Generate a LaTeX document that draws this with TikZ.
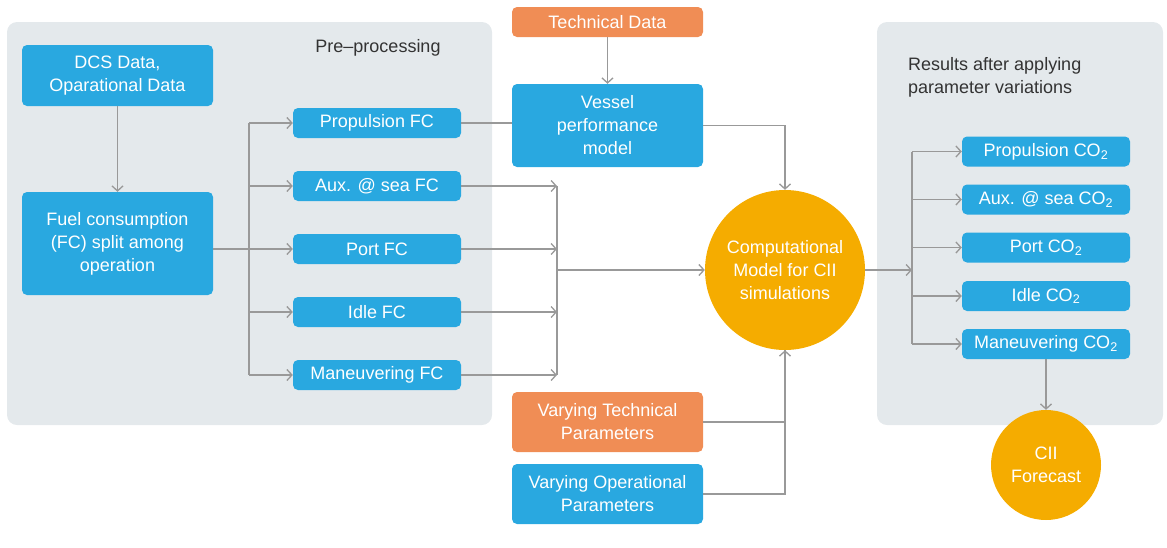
\documentclass[tikz,border=0pt]{standalone}
\usepackage{fontspec}
\setmainfont{Liberation Sans}
\usetikzlibrary{arrows.meta}
\definecolor{cblue}{HTML}{29A8E0}
\definecolor{corange}{HTML}{F08D55}
\definecolor{camber}{HTML}{F5AC00}
\definecolor{cpanel}{HTML}{E4E9EC}
\definecolor{cline}{HTML}{999999}
\definecolor{ctext}{HTML}{333333}
\tikzset{
  box/.style={fill=cblue, rounded corners=5pt, text=white, align=center, inner sep=0pt,
    font=\fontsize{18}{23}\selectfont},
  obox/.style={box, fill=corange},
  fcbox/.style={box, minimum width=168, minimum height=30},
  bigbox/.style={box, minimum width=191},
  circ/.style={circle, fill=camber, text=white, align=center, inner sep=0pt,
    font=\fontsize{18}{23}\selectfont},
  ln/.style={draw=cline, line width=1.3pt},
  arr/.style={ln, -{Straight Barb[length=5pt,width=11pt,line width=1.3pt]}},
  ptext/.style={text=ctext, align=left, inner sep=0pt, font=\fontsize{18}{23}\selectfont},
}
\begin{document}
\begin{tikzpicture}[x=1pt,y=-1pt]
\useasboundingbox (0,0) rectangle (1167,547);
% panels
\fill[cpanel, rounded corners=10pt] (7,22) rectangle (492,425);
\fill[cpanel, rounded corners=10pt] (877,22) rectangle (1163,425);
\node[ptext, anchor=center] (pre) at (378,48) {Pre\textendash processing};
\node[ptext, anchor=north west] (res) at (908,57) {Results after applying\\parameter variations};
% left
\node[bigbox, minimum height=61] (dcs) at (117.5,75.5) {DCS Data,\\Oparational Data};
\node[bigbox, minimum height=103] (fc) at (117.5,243.5) {Fuel consumption\\(FC) split among\\operation};
\node[fcbox] (pfc) at (377,123) {Propulsion FC};
\node[fcbox] (afc) at (377,186) {Aux. @ sea FC};
\node[fcbox] (tfc) at (377,249) {Port FC};
\node[fcbox] (ifc) at (377,312) {Idle FC};
\node[fcbox] (mfc) at (377,375) {Maneuvering FC};
% middle
\node[obox, minimum width=191, minimum height=30] (td) at (607.5,22) {Technical Data};
\node[bigbox, minimum height=83] (vpm) at (607.5,125.5) {Vessel\\performance\\model};
\node[obox, minimum width=191, minimum height=60] (vtp) at (607.5,422) {Varying Technical\\Parameters};
\node[bigbox, minimum height=60] (vop) at (607.5,494) {Varying Operational\\Parameters};
\node[circ, minimum size=160] (cm) at (785,270) {Computational\\Model for CII\\simulations};
% right
\node[fcbox] (pco) at (1046,151.5) {Propulsion CO\textsubscript{2}};
\node[fcbox] (aco) at (1046,199.5) {Aux. @ sea CO\textsubscript{2}};
\node[fcbox] (tco) at (1046,247.5) {Port CO\textsubscript{2}};
\node[fcbox] (ico) at (1046,296) {Idle CO\textsubscript{2}};
\node[fcbox] (mco) at (1046,344) {Maneuvering CO\textsubscript{2}};
\node[circ, minimum size=110] (cii) at (1046,465) {CII\\Forecast};
% connectors left
\coordinate (sp) at (249,249);
\draw[arr] (dcs) -- (fc);
\draw[ln] (sp -| fc.east) -- (sp);
\draw[ln] (sp |- pfc.west) -- (sp |- mfc.west);
\foreach \n in {pfc,afc,tfc,ifc,mfc} \draw[arr] (sp |- \n.west) -- (\n.west);
\coordinate (mj) at (557,270);
\foreach \n in {afc,tfc,ifc,mfc} \draw[arr] (\n.east) -- (\n.east -| mj);
\draw[ln] (afc.east -| mj) -- (mfc.east -| mj);
\draw[arr] (mj) -- (cm.west);
\draw[ln] (pfc.east) -- (pfc.east -| vpm.west);
% middle connectors
\draw[arr] (td) -- (vpm);
\draw[arr] (vpm.east) -| (cm.north);
\draw[ln] (vtp.east) -| (cm.south);
\draw[arr] (vop.east) -| (cm.south);
% right connectors
\coordinate (rj) at (912,270);
\draw[arr] (cm.east) -- (rj);
\draw[ln] (rj |- pco.west) -- (rj |- mco.west);
\foreach \n in {pco,aco,tco,ico,mco} \draw[arr] (rj |- \n.west) -- (\n.west);
\draw[arr] (mco) -- (cii);
\end{tikzpicture}
\end{document}
